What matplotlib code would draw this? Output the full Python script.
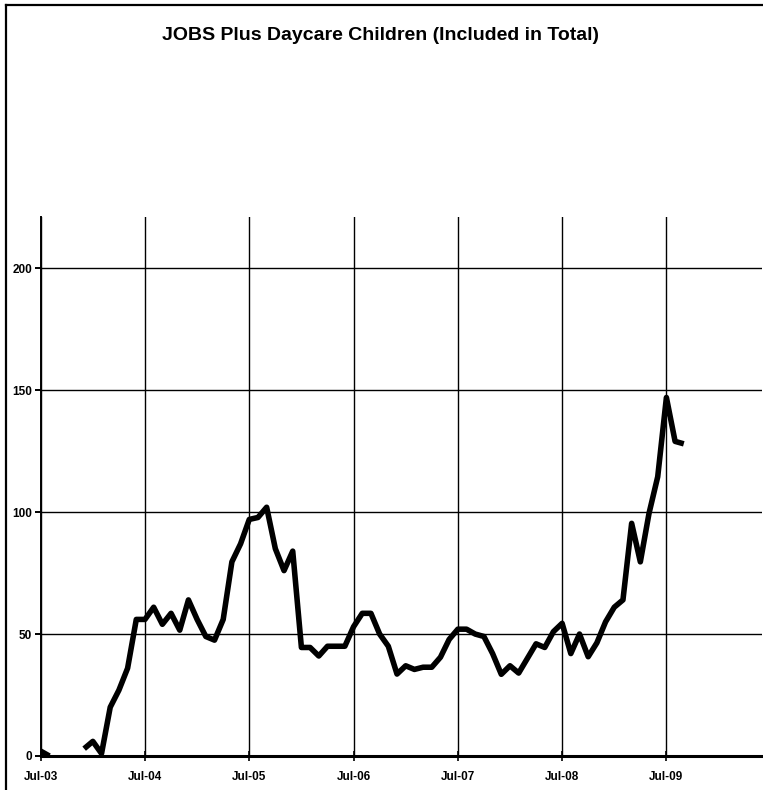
import numpy as np
import matplotlib
matplotlib.use("Agg")
import matplotlib.pyplot as plt
from matplotlib.lines import Line2D

# ----------------------------
# Data (monthly, Jul-03 .. Sep-09; NaN = no data)
# ----------------------------
TITLE = "JOBS Plus Daycare Children (Included in Total)"
tick_labels = ["Jul-03", "Jul-04", "Jul-05", "Jul-06", "Jul-07", "Jul-08", "Jul-09"]
y_ticks = [0, 50, 100, 150, 200]

children = [
    2, 0, np.nan, np.nan, np.nan, 3, 6, 1, 20, 27, 36, 56,          # Jul-03 .. Jun-04
    56, 61, 54, 58.5, 51.6, 64, 56, 49, 47.5, 56, 79.6, 87,          # Jul-04 .. Jun-05
    97, 97.8, 102, 85, 76, 84, 44.5, 44.5, 41, 45, 45, 45,           # Jul-05 .. Jun-06
    53, 58.5, 58.5, 50, 45, 33.6, 37, 35.5, 36.4, 36.4, 40.5, 47.8,  # Jul-06 .. Jun-07
    52, 52, 50, 49, 42, 33.5, 37, 34, 40, 46, 44.5, 51,              # Jul-07 .. Jun-08
    54.4, 42, 50, 40.7, 46.4, 55, 61, 64, 95.4, 79.6, 99.5, 114.5,   # Jul-08 .. Jun-09
    147, 129, 128,                                                   # Jul-09 .. Sep-09
]

months = np.arange(len(children))

# ----------------------------
# Plot
# ----------------------------
W, H = 763, 790
fig = plt.figure(figsize=(W / 100, H / 100), dpi=100)
ax = fig.add_axes([40.7 / W, 34 / H, (762 - 40.7) / W, (756 - 217) / H])

ax.plot(months, children, color="black", linewidth=4.0,
        solid_joinstyle="round", solid_capstyle="butt", zorder=3)

ax.set_xlim(0, 83)
ax.set_ylim(0, 221)
ax.set_xticks(np.arange(0, 84, 12))
ax.set_xticklabels(tick_labels)
ax.set_yticks(y_ticks)

ax.grid(True, color="black", linewidth=1.0)
ax.set_axisbelow(True)

for side in ["top", "right"]:
    ax.spines[side].set_visible(False)
ax.spines["left"].set_linewidth(1.4)
ax.spines["bottom"].set_linewidth(2.2)

ax.tick_params(axis="x", direction="inout", length=7, width=1.2, pad=7.5,
               labelsize=8.5)
ax.tick_params(axis="y", direction="out", length=4, width=1.4, pad=2,
               labelsize=8.5)
for lab in ax.get_xticklabels() + ax.get_yticklabels():
    lab.set_fontfamily("Liberation Sans")
    lab.set_fontweight("bold")

fig.text(381 / W, 1 - 35 / H, TITLE, ha="center", va="center",
         fontsize=14, fontweight="bold", family="Liberation Sans")

# outer chart frame (left and top edges visible)
fig.add_artist(Line2D([5.5 / W, 5.5 / W], [0, 1 - 5 / H], color="black",
                      linewidth=1.6, transform=fig.transFigure))
fig.add_artist(Line2D([5.5 / W, 1], [1 - 5 / H, 1 - 5 / H], color="black",
                      linewidth=1.6, transform=fig.transFigure))

fig.savefig("out.png", dpi=100)
